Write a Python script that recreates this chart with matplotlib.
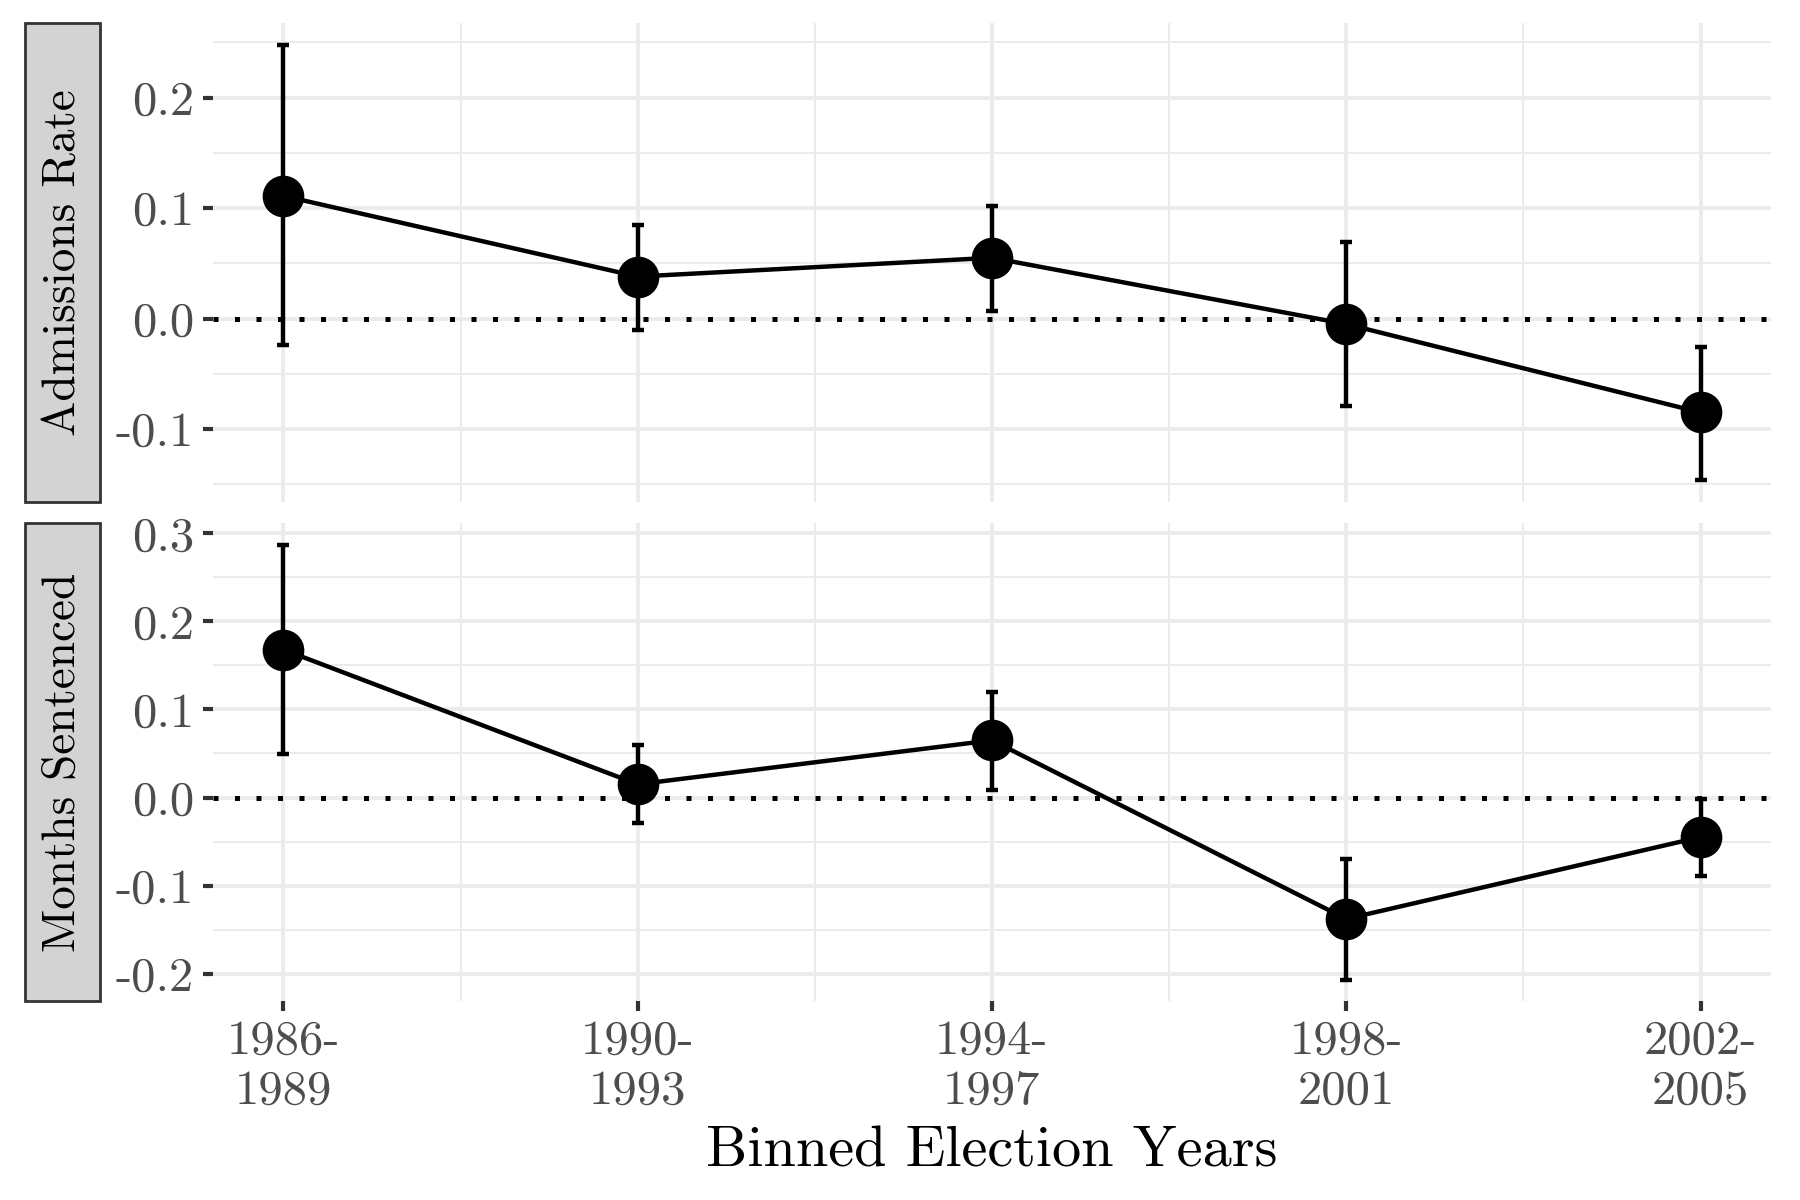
import numpy as np
import matplotlib
matplotlib.use("Agg")
import matplotlib.pyplot as plt
from matplotlib.patches import Rectangle
from matplotlib.ticker import FixedLocator

plt.rcParams['font.family'] = ['cmr10', 'DejaVu Serif']
plt.rcParams['axes.unicode_minus'] = False

bins = ["1986-\n1989", "1990-\n1993", "1994-\n1997", "1998-\n2001", "2002-\n2005"]

adm_est = [0.111, 0.038, 0.055, -0.005, -0.085]
adm_lo = [-0.024, -0.010, 0.007, -0.079, -0.146]
adm_hi = [0.248, 0.085, 0.102, 0.069, -0.026]

mon_est = [0.168, 0.015, 0.065, -0.138, -0.045]
mon_lo = [0.049, -0.029, 0.009, -0.207, -0.089]
mon_hi = [0.287, 0.060, 0.120, -0.070, -0.002]

panels = [
    ("Admissions Rate", adm_est, adm_lo, adm_hi, [-0.1, 0.0, 0.1, 0.2]),
    ("Months Sentenced", mon_est, mon_lo, mon_hi, [-0.2, -0.1, 0.0, 0.1, 0.2, 0.3]),
]

fig = plt.figure(figsize=(9, 6), dpi=200)

left, width = 0.1181, 0.866
boxes = [(0.582, 0.399), (0.1655, 0.3985)]
x = np.arange(len(bins))

for i, ((label, est, lo, hi, yt), (bot, h)) in enumerate(zip(panels, boxes)):
    ax = fig.add_axes([left, bot, width, h])
    est = np.array(est)
    lo = np.array(lo)
    hi = np.array(hi)

    ax.set_xlim(-0.2, len(bins) - 1 + 0.2)
    rng = hi.max() - lo.min()
    ax.set_ylim(lo.min() - 0.05 * rng, hi.max() + 0.05 * rng)
    ax.yaxis.set_major_locator(FixedLocator(yt))
    ax.yaxis.set_minor_locator(FixedLocator(np.arange(yt[0] - 0.05, yt[-1] + 0.06, 0.1)))
    ax.xaxis.set_major_locator(FixedLocator(x))
    ax.xaxis.set_minor_locator(FixedLocator(x[:-1] + 0.5))
    ax.grid(which='major', color='#EBEBEB', lw=1.4)
    ax.grid(which='minor', color='#EBEBEB', lw=0.7)
    ax.set_axisbelow(True)
    for s in ax.spines.values():
        s.set_visible(False)

    ax.axhline(0, color='black', lw=1.8, ls=(0, (1, 3.3)), zorder=2)
    ax.errorbar(x, est, yerr=[est - lo, hi - est], fmt='none', ecolor='black',
                elinewidth=1.6, capsize=2.0, capthick=1.6, zorder=3)
    ax.plot(x, est, color='black', lw=1.6, zorder=3)
    ax.plot(x, est, 'o', color='black', ms=14, zorder=4)

    ax.set_yticklabels([f"{v:.1f}" for v in yt])
    ax.tick_params(axis='both', which='major', length=3.6, width=1.5,
                   color='#333333', labelcolor='#4D4D4D', labelsize=17.5, pad=3)
    ax.tick_params(axis='both', which='minor', length=0)
    if i == 0:
        ax.tick_params(axis='x', which='major', length=0, labelbottom=False)
    else:
        ax.set_xticklabels(bins, linespacing=1.15)

    # strip on the left
    fig.patches.append(Rectangle((0.0141, bot), 0.0417, h, transform=fig.transFigure,
                                 facecolor='#D3D3D3', edgecolor='#333333', lw=1.0))
    fig.text(0.0141 + 0.0417 / 2, bot + h / 2, label, rotation=90, ha='center',
             va='center', fontsize=17, color='black')

fig.text(left + width / 2, 0.040, "Binned Election Years", ha='center', va='center',
         fontsize=21, color='black')

fig.savefig("out.png", dpi=200)
